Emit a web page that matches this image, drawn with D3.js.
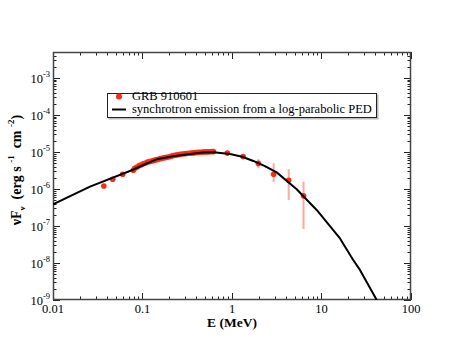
<!DOCTYPE html>
<html><head><meta charset="utf-8">
<script src="https://cdn.jsdelivr.net/npm/d3@7"></script>
<style>body{margin:0;background:#fff}svg{display:block}</style>
</head><body>
<svg id="c" width="463" height="354" font-family="'Liberation Serif', 'DejaVu Serif', serif"></svg>
<script>
// Data: GRB 910601 spectrum (E in MeV, nuFnu in erg s^-1 cm^-2)
const dataE = [0.037,0.0465,0.060,0.079,
  0.082,0.087,0.092,0.097,0.102,0.108,0.114,0.120,0.127,0.134,0.142,0.150,0.159,0.168,0.178,0.188,0.199,0.211,0.223,0.236,0.250,0.265,0.280,0.297,0.314,0.333,0.352,0.373,0.395,0.418,0.443,0.469,0.497,0.527,0.558,0.590,0.620,
  0.887,1.33,1.97,2.92,4.3,6.3];
const dataF = [1.2e-6,1.82e-6,2.5e-6,3.2e-6,
  3.6e-6,3.9e-6,4.3e-6,4.5e-6,4.8e-6,5.0e-6,5.3e-6,5.5e-6,5.7e-6,5.9e-6,6.1e-6,6.3e-6,6.6e-6,6.8e-6,7.0e-6,7.2e-6,7.4e-6,7.7e-6,8.0e-6,8.2e-6,8.4e-6,8.6e-6,8.8e-6,8.9e-6,9.1e-6,9.2e-6,9.3e-6,9.4e-6,9.6e-6,9.7e-6,9.8e-6,9.9e-6,1.0e-5,1.0e-5,1.01e-5,1.02e-5,1.02e-5,
  9.3e-6,7.5e-6,4.9e-6,2.5e-6,1.72e-6,6.5e-7];
// error bars
const errE  = [1.97,2.92,4.3,6.3];
const errLo = [3.6e-6,1.55e-6,5.0e-7,8.3e-8];
const errHi = [6.35e-6,4.95e-6,3.4e-6,1.57e-6];
// model curve: synchrotron emission from a log-parabolic PED
const modelE = [0.01,0.0259,0.0783,0.11,0.144,0.22,0.34,0.47,0.62,0.95,1.3,1.73,2.3,3.16,5.28,8.83,16.1,22.6,26.9,41.4,45];
const modelF = [3.85e-7,1.15e-6,3.3e-6,4.8e-6,6.3e-6,7.6e-6,8.8e-6,9.6e-6,9.8e-6,8.8e-6,7.4e-6,5.7e-6,4.2e-6,2.8e-6,9.8e-7,2.7e-7,4.6e-8,1.2e-8,6.5e-9,1.0e-9,6e-10];
const xTicks = [0.01,0.1,1,10,100];
const xTickLabels = ["0.01","0.1","1","10","100"];
const yTickExp = [-9,-8,-7,-6,-5,-4,-3];
const legendLabels = ["GRB 910601","synchrotron emission from a log-parabolic PED"];

const L=53,R=411,T=52,B=300;
const svg=d3.select("#c");
const x=d3.scaleLog().domain([0.01,100]).range([L,R]);
const y=d3.scaleLog().domain([1e-9,5e-3]).range([B,T]);
const red="#ff2a10";

svg.append("clipPath").attr("id","clip").append("rect").attr("x",L).attr("y",T).attr("width",R-L).attr("height",B-T);

// minor/major ticks
const g=svg.append("g").attr("stroke","#222").attr("stroke-width",1);
const xMinor=[];for(let d=-2;d<2;d++)for(let k=2;k<=9;k++)xMinor.push(k*Math.pow(10,d));
const yMinor=[];for(let d=-9;d<-2;d++)for(let k=2;k<=9;k++){const v=k*Math.pow(10,d);if(v<=5e-3)yMinor.push(v);}
xMinor.forEach(v=>{const px=Math.round(x(v))+0.5;g.append("line").attr("x1",px).attr("x2",px).attr("y1",B).attr("y2",B-3.5);g.append("line").attr("x1",px).attr("x2",px).attr("y1",T).attr("y2",T+3.5);});
xTicks.forEach(v=>{const px=Math.round(x(v))+0.5;g.append("line").attr("x1",px).attr("x2",px).attr("y1",B).attr("y2",B-7);g.append("line").attr("x1",px).attr("x2",px).attr("y1",T).attr("y2",T+7);});
yMinor.forEach(v=>{const py=Math.round(y(v))+0.5;g.append("line").attr("x1",L).attr("x2",L+3.5).attr("y1",py).attr("y2",py);g.append("line").attr("x1",R).attr("x2",R-3.5).attr("y1",py).attr("y2",py);});
yTickExp.forEach(e=>{const py=Math.round(y(Math.pow(10,e)))+0.5;g.append("line").attr("x1",L).attr("x2",L+7).attr("y1",py).attr("y2",py);g.append("line").attr("x1",R).attr("x2",R-7).attr("y1",py).attr("y2",py);});

// frame
svg.append("rect").attr("x",L+0.5).attr("y",T+0.5).attr("width",R-L-1).attr("height",B-T-1).attr("fill","none").attr("stroke","#444").attr("stroke-width",1.5);

// tick labels
xTicks.forEach((v,i)=>svg.append("text").attr("x",x(v)).attr("y",B+13).attr("text-anchor","middle").attr("font-size",12.5).text(xTickLabels[i]));
yTickExp.forEach(e=>{const t=svg.append("text").attr("x",50).attr("y",y(Math.pow(10,e))+5).attr("text-anchor","end").attr("font-size",12.5);
  t.append("tspan").text("10");t.append("tspan").attr("dy",-6).attr("font-size",8.5).text(String(e));});

// axis labels
svg.append("text").attr("x",232).attr("y",327).attr("text-anchor","middle").attr("font-size",13.5).attr("font-weight","bold").text("E (MeV)");
const yl=svg.append("text").attr("transform","translate(21,170) rotate(-90)").attr("text-anchor","middle").attr("font-size",14).attr("font-weight","bold");
yl.append("tspan").text("νF");
yl.append("tspan").attr("dy",4).attr("font-size",9).text("ν");
yl.append("tspan").attr("dy",-4).text("\u00a0\u00a0(erg s ");
yl.append("tspan").attr("dy",-7).attr("font-size",9).text("-1");
yl.append("tspan").attr("dy",7).text("\u00a0 cm ");
yl.append("tspan").attr("dy",-7).attr("font-size",9).text("-2");
yl.append("tspan").attr("dy",7).text(")");

const pg=svg.append("g").attr("clip-path","url(#clip)");
// error bars
errE.forEach((e,i)=>pg.append("line").attr("x1",x(e)).attr("x2",x(e)).attr("y1",y(errLo[i])).attr("y2",y(errHi[i])).attr("stroke","#ffa89c").attr("stroke-width",2));
// model line
const line=d3.line().x(d=>x(d[0])).y(d=>y(d[1])).curve(d3.curveLinear);
// points
dataE.forEach((e,i)=>pg.append("circle").attr("cx",x(e)).attr("cy",y(dataF[i])).attr("r",2.8).attr("fill",red));
pg.append("path").datum(modelE.map((e,i)=>[e,modelF[i]])).attr("d",line).attr("fill","none").attr("stroke","#000").attr("stroke-width",2).attr("stroke-linejoin","round");

// legend
svg.append("rect").attr("x",108.5).attr("y",94.5).attr("width",270).attr("height",25).attr("fill","#bbb");
svg.append("rect").attr("x",107.5).attr("y",93.5).attr("width",269).attr("height",24).attr("fill","#fff").attr("stroke","#222").attr("stroke-width",1);
svg.append("circle").attr("cx",119).attr("cy",96.5).attr("r",3).attr("fill",red);
svg.append("line").attr("x1",112).attr("x2",126).attr("y1",109.5).attr("y2",109.5).attr("stroke","#000").attr("stroke-width",2);
svg.append("text").attr("x",132).attr("y",100).attr("font-size",12.5).text(legendLabels[0]);
svg.append("text").attr("x",132).attr("y",112.5).attr("font-size",12.5).text(legendLabels[1]);
</script>
</body></html>
